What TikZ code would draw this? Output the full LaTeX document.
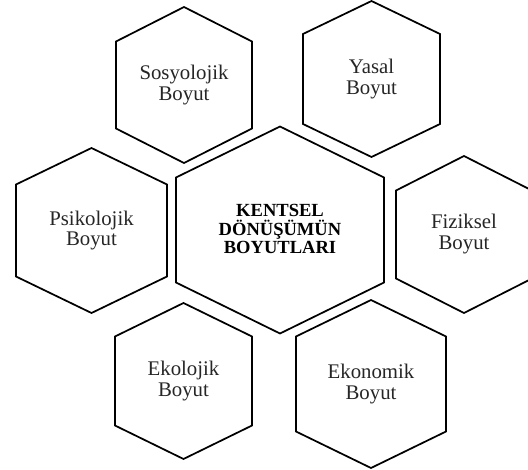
\documentclass[tikz,border=0pt]{standalone}
\usepackage{fontspec}
\setmainfont{Liberation Serif}
\begin{document}
\begin{tikzpicture}[x=0.75pt,y=-0.75pt,
  hexline/.style={draw=black,line width=1.3pt,line join=miter},
  lbl/.style={align=center,inner sep=0pt,text=black!85,font=\fontsize{15.6}{15.4}\selectfont},
  mainlbl/.style={align=center,inner sep=0pt,text=black,font=\bfseries\fontsize{13.9}{13.9}\selectfont}]
\useasboundingbox (0,0) rectangle (528,470);
\clip (0,0) rectangle (528,470);
\foreach \cx/\cy/\hw/\hh/\hs in {
  184/85/68/78/43.5,
  371.5/79/68.5/78/45,
  91.5/230.5/75.5/82.5/46,
  280/230/104/103.5/52.5,
  464/234.5/68/78.5/44,
  183.5/381/68.5/78/44.5,
  371/384/75/84/47.5}
{
  \draw[hexline] (\cx,\cy-\hh) -- (\cx+\hw,\cy-\hs) -- (\cx+\hw,\cy+\hs)
     -- (\cx,\cy+\hh) -- (\cx-\hw,\cy+\hs) -- (\cx-\hw,\cy-\hs) -- cycle;
}
\node[lbl] (sos) at (184,85) {Sosyolojik\\Boyut};
\node[lbl] (yas) at (371.5,79) {Yasal\\Boyut};
\node[lbl] (psi) at (91.5,230.5) {Psikolojik\\Boyut};
\node[mainlbl] (ken) at (280,229) {KENTSEL\\DÖNÜŞÜMÜN\\BOYUTLARI};
\node[lbl] (fiz) at (464,234) {Fiziksel\\Boyut};
\node[lbl] (eko) at (183.5,381) {Ekolojik\\Boyut};
\node[lbl] (ekn) at (371,384) {Ekonomik\\Boyut};
\end{tikzpicture}
\end{document}
